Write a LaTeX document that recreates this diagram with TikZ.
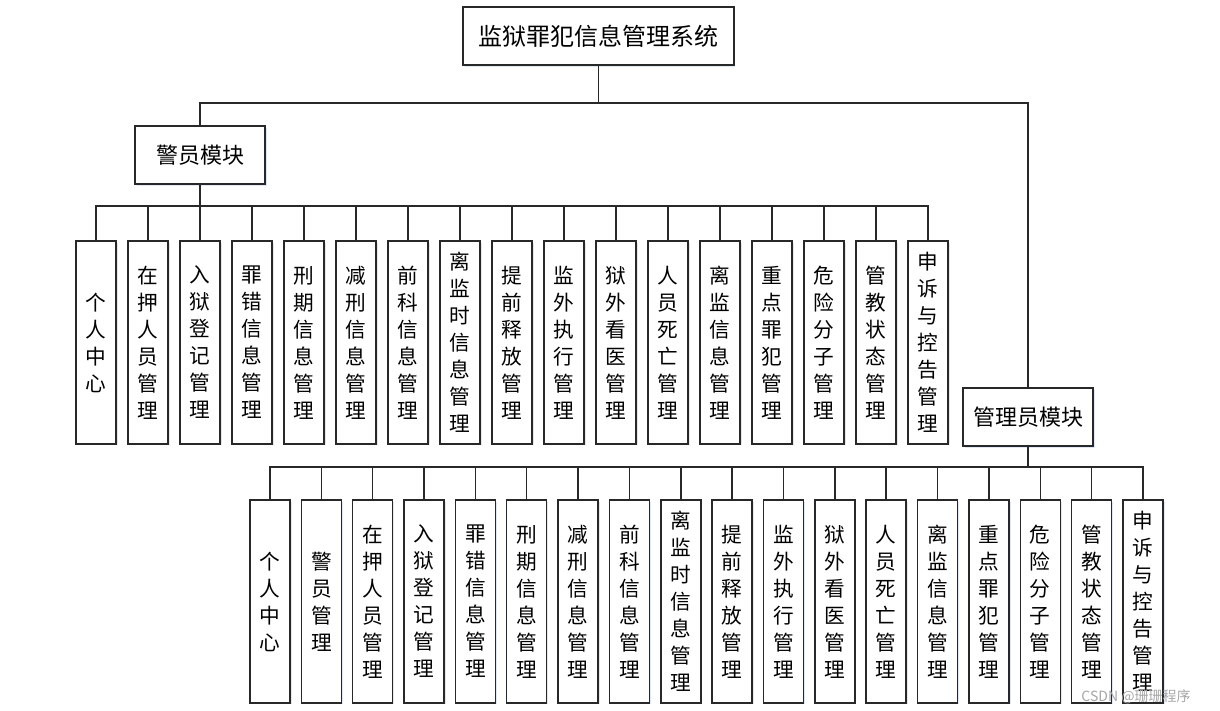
\documentclass[tikz,border=0pt]{standalone}
\usepackage{fontspec}
\newfontfamily\cjk{Noto Sans CJK SC}
\usetikzlibrary{shadows}
% let lines break between single CJK characters (vertical labels)
\XeTeXlinebreaklocale "zh"
\XeTeXlinebreakskip=0pt plus 1pt
\definecolor{boxline}{RGB}{40,40,40}
\definecolor{haze}{RGB}{170,190,225}
\tikzset{
  sysbox/.style={draw=boxline,line width=1.1pt,fill=white,inner sep=0pt,
    minimum width=203pt,minimum height=43.5pt,
    font=\cjk\fontsize{18}{22}\selectfont,
    drop shadow={fill=haze,opacity=0.35,shadow xshift=1.2pt,shadow yshift=-1.2pt}},
  modbox/.style={sysbox,minimum width=97.5pt,
    font=\cjk\fontsize{16.5}{20}\selectfont},
  leafbox/.style={sysbox,minimum width=30pt,minimum height=152pt,
    text width=16pt,align=center,inner xsep=0pt,
    font=\cjk\fontsize{15.5}{20.25}\selectfont},
  link/.style={line width=1.1pt,draw=boxline},
  wmtext/.style={font=\cjk\fontsize{10.5}{12}\selectfont,text=black!35,inner sep=0pt}
}
\begin{document}
\begin{tikzpicture}[x=0.75pt,y=-0.75pt]
  \useasboundingbox (0,0) rectangle (1220,710);
  \node[sysbox] (root) at (598.5,36) {监狱罪犯信息管理系统};
  \node[modbox] (police) at (200,155) {警员模块};
  \node[modbox] (admin) at (1028,417) {管理员模块};
  \coordinate (rootbus) at (598.5,103);
  \coordinate (pbus) at (200,206);
  \coordinate (abus) at (1028,467);
  \draw[link] (root.south) -- (rootbus);
  \draw[link] (rootbus) -| (police.north);
  \draw[link] (rootbus) -| (admin.north);
  \draw[link] (police.south) -- (pbus);
  \draw[link] (admin.south) -- (abus);
  % police leaves
  \foreach \lab [count=\i] in {个人中心,在押人员管理,入狱登记管理,罪错信息管理,
      刑期信息管理,减刑信息管理,前科信息管理,离监时信息管理,提前释放管理,
      监外执行管理,狱外看医管理,人员死亡管理,离监信息管理,重点罪犯管理,
      危险分子管理,管教状态管理,申诉与控告管理}{
    \node[leafbox] (p\i) at ({96+52*(\i-1)},342.5) {\lab};
    \draw[link] (pbus) -| (p\i.north);
  }
  % admin leaves
  \foreach \lab [count=\i] in {个人中心,警员管理,在押人员管理,入狱登记管理,
      罪错信息管理,刑期信息管理,减刑信息管理,前科信息管理,离监时信息管理,
      提前释放管理,监外执行管理,狱外看医管理,人员死亡管理,离监信息管理,
      重点罪犯管理,危险分子管理,管教状态管理,申诉与控告管理}{
    \node[leafbox] (a\i) at ({270+51.35*(\i-1)},601.5) {\lab};
    \draw[link] (abus) -| (a\i.north);
  }
  \node[wmtext] (wm) at (1136,697) {CSDN @珊珊程序};
\end{tikzpicture}
\end{document}
